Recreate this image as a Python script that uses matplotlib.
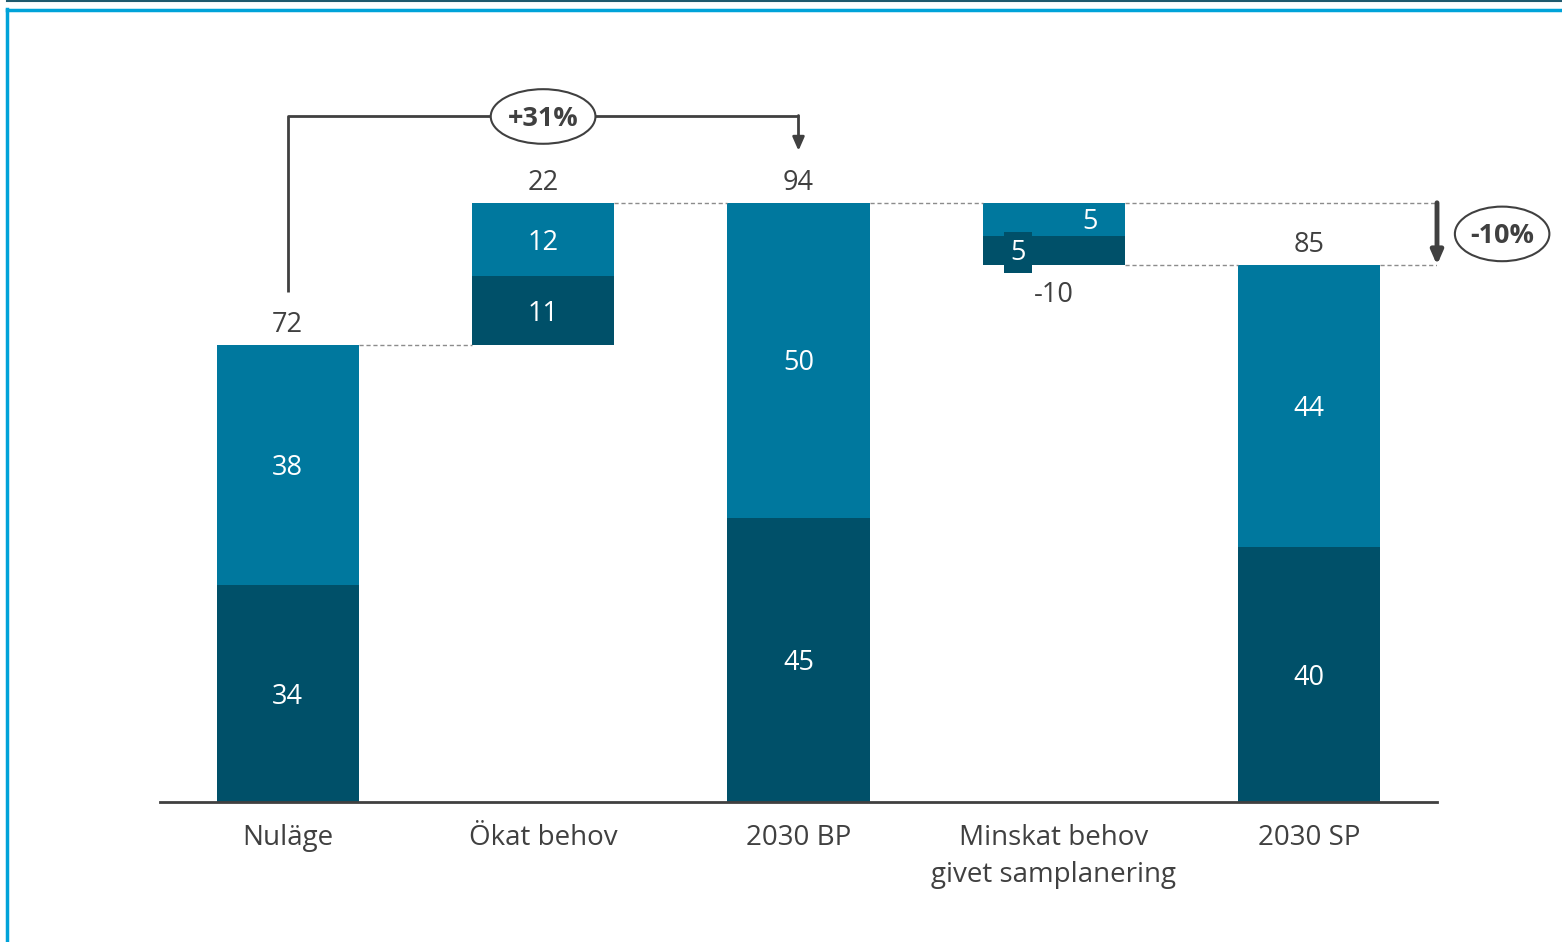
import matplotlib
matplotlib.use("Agg")
import matplotlib.pyplot as plt
from matplotlib.patches import Ellipse
from matplotlib.lines import Line2D

plt.rcParams['font.family'] = ['Open Sans', 'DejaVu Sans']

# waterfall data (two stacked components per step)
categories = ["Nuläge", "Ökat behov", "2030 BP", "Minskat behov\ngivet samplanering", "2030 SP"]
kinds = ["total", "delta", "total", "delta", "total"]
dark_vals = [34.2, 10.8, 44.8, -4.6, 40.2]
light_vals = [37.8, 11.6, 49.6, -5.2, 44.4]

DARK = "#005069"
LIGHT = "#00789E"
GREY = "#404040"
BORDER = "#00A3D9"

fig = plt.figure(figsize=(15.62, 9.42), dpi=100)
W, H = 1562, 942
ax = fig.add_axes([160 / W, 1 - 802 / H, (1437 - 160) / W, (802 - 20) / H])
ax.set_xlim(-0.5, 4.5)
ax.set_ylim(0, 123.2)

bw = 0.556
nudge = -0.5  # optical centring of text
level = 0.0
tops, bottoms = [], []
for i, (k, d, l) in enumerate(zip(kinds, dark_vals, light_vals)):
    if k == "total":
        d_bot, l_bot = 0.0, d
        top, bot = d + l, 0.0
        level = top
    elif d + l >= 0:
        d_bot, l_bot = level, level + d
        top, bot = level + d + l, level
        level = top
    else:
        # decrease: light part hangs from the previous level, dark part below it
        top = level
        l_bot = level + l
        d_bot = l_bot + d
        bot = d_bot
        level = bot
    ax.bar(i, abs(d), bottom=d_bot, width=bw, color=DARK)
    ax.bar(i, abs(l), bottom=l_bot, width=bw, color=LIGHT)
    tops.append(top)
    bottoms.append(bot)

    lbl = dict(color="white", fontsize=19.5, ha="center", va="center")
    if k == "delta" and d + l < 0:
        ax.text(i + 0.14, l_bot + abs(l) / 2 + nudge, f"{abs(l):.0f}", **lbl)
        ax.text(i - 0.14, d_bot + abs(d) / 2 - 0.4, f"{abs(d):.0f}",
                bbox=dict(boxstyle="square,pad=0.24", fc=DARK, ec="none"), **lbl)
        ax.text(i, bot - 4.2 + nudge, f"{d + l:.0f}", color=GREY, fontsize=19.5,
                ha="center", va="center")
    else:
        ax.text(i, d_bot + d / 2 + nudge, f"{d:.0f}", **lbl)
        ax.text(i, l_bot + l / 2 + nudge, f"{l:.0f}", **lbl)
        ax.text(i, top + 3.6 + nudge, f"{d + l:.0f}", color=GREY, fontsize=19.5,
                ha="center", va="center")

# dashed connectors between steps
dash = dict(color="#8c8c8c", lw=1, ls=(0, (3, 2)))
for i in range(len(categories) - 1):
    y = bottoms[i] if (kinds[i] == "delta" and dark_vals[i] + light_vals[i] < 0) else tops[i]
    ax.plot([i + bw / 2, i + 1 - bw / 2], [y, y], **dash)
# reference lines for the reduction arrow
ax.plot([3 + bw / 2, 4.5], [tops[3], tops[3]], **dash)
ax.plot([4 + bw / 2, 4.5], [tops[4], tops[4]], **dash)

# growth bracket
growth = tops[2] / tops[0] - 1
ax.plot([0, 0, 2], [80.3, 108.0, 108.0], color=GREY, lw=2, solid_capstyle="butt")
ax.annotate("", xy=(2, 102.6), xytext=(2, 108.15),
            arrowprops=dict(arrowstyle="-|>,head_width=0.35,head_length=0.8", color=GREY, lw=2,
                            shrinkA=0, shrinkB=0))
ax.add_patch(Ellipse((1, 108.0), 0.41, 8.6, fc="white", ec=GREY, lw=1.5, zorder=3))
ax.text(1, 107.6, f"{growth:+.0%}", fontsize=19.5, fontweight="bold", color=GREY,
        ha="center", va="center", zorder=4)

# reduction arrow
change = tops[4] / tops[2] - 1
ax.annotate("", xy=(4.5, tops[4]), xytext=(4.5, tops[2]),
            arrowprops=dict(arrowstyle="-|>,head_width=0.35,head_length=0.8", color=GREY, lw=3.5,
                            shrinkA=0, shrinkB=0), annotation_clip=False)
mid = (tops[2] + tops[4]) / 2
ax.add_patch(Ellipse((4.755, mid), 0.37, 8.6, fc="white", ec=GREY, lw=1.5,
                     zorder=3, clip_on=False))
ax.text(4.755, mid - 0.4, f"{change:.0%}", fontsize=19.5, fontweight="bold",
        color=GREY, ha="center", va="center", zorder=4, clip_on=False)

# axes styling
for s in ["top", "right", "left"]:
    ax.spines[s].set_visible(False)
ax.spines["bottom"].set_color(GREY)
ax.spines["bottom"].set_linewidth(2)
ax.set_yticks([])
ax.set_xticks(range(len(categories)))
ax.set_xticklabels(categories, fontsize=20, color=GREY, linespacing=1.42)
ax.tick_params(axis="x", length=0, pad=16)

# frame lines
fig.add_artist(Line2D([7 / W, 1], [1 - 0.8 / H, 1 - 0.8 / H], color="#1F5A6E", lw=1.5))
fig.add_artist(Line2D([7.5 / W, 1], [1 - 10 / H, 1 - 10 / H], color=BORDER, lw=2.5))
fig.add_artist(Line2D([7.5 / W, 7.5 / W], [0, 1 - 9 / H], color=BORDER, lw=2.5))

fig.savefig("out.png", dpi=100)
